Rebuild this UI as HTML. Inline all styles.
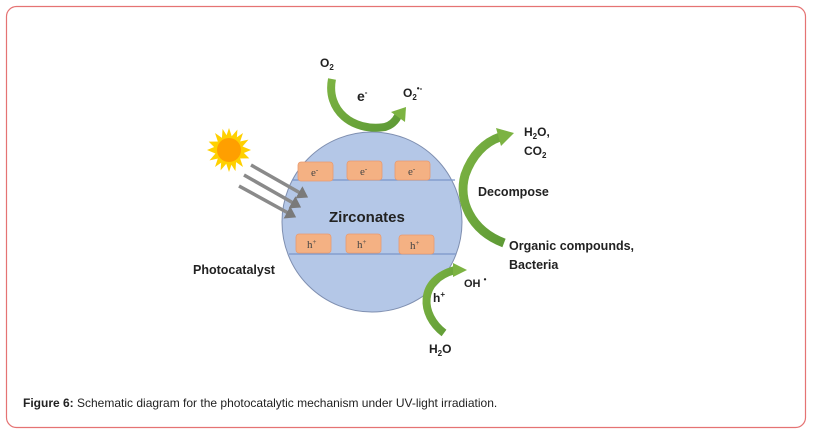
<!DOCTYPE html>
<html><head><style>
body{margin:0;width:813px;height:433px;background:#fff;overflow:hidden}
svg{position:absolute;left:0;top:0}
text{font-family:"Liberation Sans",sans-serif}
.c{font-family:"Liberation Sans",sans-serif;font-weight:bold;fill:#222}
.s{font-family:"Liberation Serif",serif;fill:#444;font-size:11px}
</style></head><body>
<svg width="813" height="433" viewBox="0 0 813 433">
<defs>
<linearGradient id="g" x1="0" y1="0" x2="1" y2="1"><stop offset="0" stop-color="#7cb342"/><stop offset="1" stop-color="#5e9a36"/></linearGradient>
<marker id="ah" markerWidth="4" markerHeight="4" refX="1" refY="2" orient="auto" markerUnits="strokeWidth"><path d="M0,0 L3,2 L0,4 z" fill="#7a7a7a"/></marker>
</defs>
<rect x="6.5" y="6.5" width="799" height="421" rx="10" fill="none" stroke="#e57373" stroke-width="1.2"/>
<circle cx="372" cy="222" r="90" fill="#b4c7e7" stroke="#7f8fb0" stroke-width="1"/>
<line x1="292" y1="180" x2="455" y2="180" stroke="#7a96c8" stroke-width="1.2"/>
<line x1="289" y1="254" x2="456" y2="254" stroke="#7a96c8" stroke-width="1.2"/>
<g fill="#f4b183" stroke="#e89a70" stroke-width="0.8">
<rect x="298" y="162" width="35" height="19" rx="3"/><rect x="347" y="161" width="35" height="19" rx="3"/><rect x="395" y="161" width="35" height="19" rx="3"/>
<rect x="296" y="234" width="35" height="19" rx="3"/><rect x="346" y="234" width="35" height="19" rx="3"/><rect x="399" y="235" width="35" height="19" rx="3"/>
</g>
<text class="s" x="311" y="176">e<tspan font-size="7" dy="-4">-</tspan></text>
<text class="s" x="360" y="175">e<tspan font-size="7" dy="-4">-</tspan></text>
<text class="s" x="408" y="175">e<tspan font-size="7" dy="-4">-</tspan></text>
<text class="s" x="307" y="248">h<tspan font-size="7" dy="-4">+</tspan></text>
<text class="s" x="357" y="248">h<tspan font-size="7" dy="-4">+</tspan></text>
<text class="s" x="410" y="249">h<tspan font-size="7" dy="-4">+</tspan></text>
<text class="c" x="329" y="222" font-size="15">Zirconates</text>
<g transform="translate(229,150)">
<polygon fill="#ffd000" points="0,-22 4,-10 14,-17 10,-5 22,0 10,5 14,17 4,10 0,22 -4,10 -14,17 -10,5 -22,0 -10,-5 -14,-17 -4,-10"/>
<polygon fill="#ffd000" points="0,-22 4,-10 14,-17 10,-5 22,0 10,5 14,17 4,10 0,22 -4,10 -14,17 -10,5 -22,0 -10,-5 -14,-17 -4,-10" transform="rotate(22.5)"/>
<circle r="12" fill="#ff9f00"/>
</g>
<g stroke="#8a8a8a" stroke-width="3.5" marker-end="url(#ah)">
<line x1="251" y1="165" x2="302" y2="194"/><line x1="244" y1="175" x2="295" y2="204"/><line x1="239" y1="186" x2="290" y2="214"/>
</g>
<path d="M332,79 C326,110 352,132 385,127 C392,125 396,120 398,116" fill="none" stroke="url(#g)" stroke-width="8"/>
<polygon points="391,112 406,107 405,122" fill="#7cb342"/>
<path d="M504,243 C470,230 458,200 465,175 C472,155 485,142 500,137" fill="none" stroke="url(#g)" stroke-width="9"/>
<polygon points="496,128 514,133 501,146" fill="#7cb342"/>
<path d="M444,333 C420,315 418,280 455,270" fill="none" stroke="url(#g)" stroke-width="8"/>
<polygon points="453,263 467,270 453,277" fill="#7cb342"/>
<text class="c" x="320" y="67" font-size="12">O<tspan font-size="8" dy="3">2</tspan></text>
<text class="c" x="357" y="101" font-size="14">e<tspan font-size="8" dy="-6">-</tspan></text>
<text class="c" x="403" y="97" font-size="12">O<tspan font-size="8" dy="3">2</tspan><tspan font-size="8" dy="-9">•-</tspan></text>
<text class="c" x="524" y="136" font-size="12">H<tspan font-size="8" dy="3">2</tspan><tspan dy="-3">O,</tspan></text>
<text class="c" x="524" y="155" font-size="12">CO<tspan font-size="8" dy="3">2</tspan></text>
<text class="c" x="478" y="196" font-size="12.5">Decompose</text>
<text class="c" x="509" y="250" font-size="12.5">Organic compounds,</text>
<text class="c" x="509" y="269" font-size="12.5">Bacteria</text>
<text class="c" x="193" y="274" font-size="12.5">Photocatalyst</text>
<text class="c" x="464" y="287" font-size="11">OH <tspan font-size="8" dy="-5">•</tspan></text>
<text class="c" x="433" y="302" font-size="12">h<tspan font-size="8" dy="-5">+</tspan></text>
<text class="c" x="429" y="353" font-size="12">H<tspan font-size="8" dy="3">2</tspan><tspan dy="-3">O</tspan></text>
<text x="23" y="407" font-size="12" fill="#222"><tspan font-weight="bold">Figure 6:</tspan> Schematic diagram for the photocatalytic mechanism under UV-light irradiation.</text>
</svg>
</body></html>
